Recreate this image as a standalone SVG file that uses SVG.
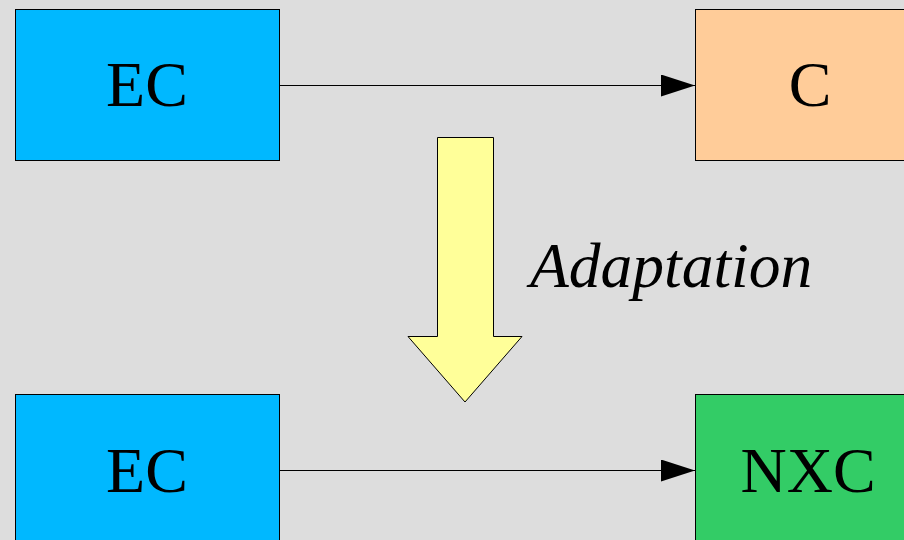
<svg xmlns="http://www.w3.org/2000/svg" width="904" height="540" viewBox="0 0 904 540">
<style>
.box{stroke:#000;stroke-width:1}
.lbl{font-family:'Liberation Serif','DejaVu Serif',serif;font-size:64px;fill:#000;text-anchor:middle}
.it{font-family:'Liberation Serif','DejaVu Serif',serif;font-style:italic;font-size:63.5px;fill:#000}
.conn{stroke:#000;stroke-width:1;fill:none}
</style>
<defs>
<marker id="ah" markerUnits="userSpaceOnUse" markerWidth="34" markerHeight="22" refX="34" refY="11" orient="auto">
<path d="M0,0 L34,11 L0,22 Z" fill="#000"/>
</marker>
</defs>
<rect width="904" height="540" fill="#dddddd"/>
<g id="ec1"><rect class="box" x="15.5" y="9.5" width="264" height="151" fill="#00b8ff"/><text class="lbl" x="147" y="106">EC</text></g>
<g id="c"><rect class="box" x="695.5" y="9.5" width="220" height="151" fill="#ffcc99"/><text class="lbl" x="810" y="106">C</text></g>
<g id="ec2"><rect class="box" x="15.5" y="394.5" width="264" height="160" fill="#00b8ff"/><text class="lbl" x="147" y="492">EC</text></g>
<g id="nxc"><rect class="box" x="695.5" y="394.5" width="220" height="160" fill="#33cc66"/><text class="lbl" x="808" y="492">NXC</text></g>
<g id="adapt">
<path d="M437.5,137.5 H493.5 V336.5 H522 L465,402 L408,336.5 H437.5 Z" fill="#ffff99" stroke="#000" stroke-width="1"/>
<text class="it" x="530" y="287">Adaptation</text>
</g>
<g id="connectors">
<line class="conn" x1="279.5" y1="85.5" x2="695" y2="85.5" marker-end="url(#ah)"/>
<line class="conn" x1="279.5" y1="470.5" x2="695" y2="470.5" marker-end="url(#ah)"/>
</g>
</svg>
